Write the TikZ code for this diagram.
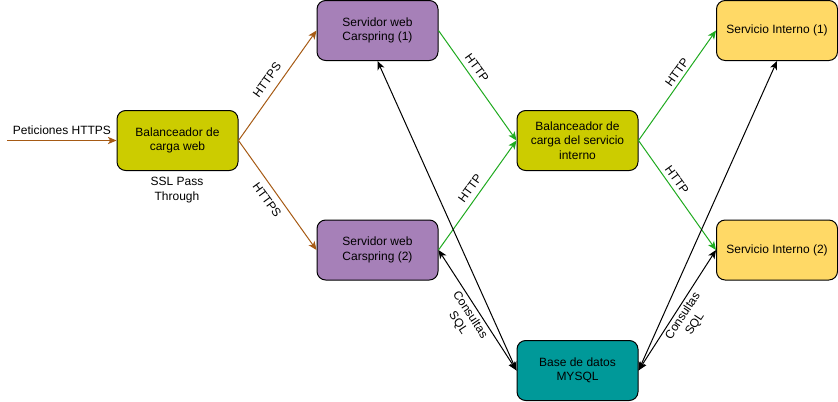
\documentclass[tikz,border=0pt]{standalone}
\usepackage{fontspec}
\setmainfont{Liberation Sans}
\usetikzlibrary{arrows.meta}
\definecolor{cpurple}{HTML}{A680B8}
\definecolor{colive}{HTML}{CCCC00}
\definecolor{cteal}{HTML}{009999}
\definecolor{cyellow}{HTML}{FFD966}
\definecolor{cbrown}{HTML}{A65A14}
\definecolor{cgreen}{HTML}{1FAA1F}
\tikzset{
  box/.style={draw=black, line width=0.75pt, rounded corners=6.5pt, minimum width=90.75pt, minimum height=45pt, inner sep=0pt, align=center, font=\fontsize{9}{10.75}\selectfont},
  lbl/.style={inner sep=0pt, align=center, font=\fontsize{9}{10.75}\selectfont},
  tip/.style={-{Stealth[length=6.5pt,width=5.5pt,inset=1.8pt]}},
  bitip/.style={{Stealth[length=6.5pt,width=5.5pt,inset=1.8pt]}-{Stealth[length=6.5pt,width=5.5pt,inset=1.8pt]}},
  brownedge/.style={tip, draw=cbrown, line width=0.75pt, color=cbrown},
  greenedge/.style={tip, draw=cgreen, line width=0.75pt, color=cgreen},
  blackedge/.style={bitip, draw=black, line width=0.75pt},
}
\begin{document}
\begin{tikzpicture}[x=0.75pt,y=-0.75pt]
\useasboundingbox (0,0) rectangle (838,401);
% nodes
\node[box, fill=colive] (lbw) at (177.5,140.5) {Balanceador de\\carga web};
\node[box, fill=cpurple] (s1) at (377.5,30.5) {Servidor web\\Carspring (1)};
\node[box, fill=cpurple] (s2) at (377.5,250) {Servidor web\\Carspring (2)};
\node[box, fill=colive] (lbs) at (577.5,140.5) {Balanceador de\\carga del servicio\\interno};
\node[box, fill=cteal] (db) at (577.5,370.5) {Base de datos\\MYSQL};
\node[box, fill=cyellow] (si1) at (777,30.5) {Servicio Interno (1)};
\node[box, fill=cyellow] (si2) at (777,250) {Servicio Interno (2)};
\coordinate (pin) at (7,140.5);
% connectors
\draw[brownedge] (pin) -- (lbw.west);
\draw[brownedge] (lbw.east) -- (s1.west);
\draw[brownedge] (lbw.east) -- (s2.west);
\draw[greenedge] (s1.east) -- (lbs.west);
\draw[greenedge] (s2.east) -- (lbs.west);
\draw[greenedge] (lbs.east) -- (si1.west);
\draw[greenedge] (lbs.east) -- (si2.west);
\draw[blackedge] (s1.south) -- (db.west);
\draw[blackedge] (s2.east) -- (db.west);
\draw[blackedge] (si1.south) -- (db.east);
\draw[blackedge] (si2.west) -- (db.east);
% labels
\node[lbl] (tpet) at (62,130.5) {Peticiones HTTPS};
\node[lbl] (tssl) at (177,190) {SSL Pass\\Through};
\node[lbl, rotate=54] (l1) at (267,80) {HTTPS};
\node[lbl, rotate=-54] (l2) at (267,200) {HTTPS};
\node[lbl, rotate=-54] (l3) at (477,68) {HTTP};
\node[lbl, rotate=54] (l4) at (470,188) {HTTP};
\node[lbl, rotate=54] (l5) at (677,72) {HTTP};
\node[lbl, rotate=-54] (l6) at (677,180) {HTTP};
\node[lbl, rotate=-56.6] (l7) at (464,319) {Consultas\\SQL};
\node[lbl, rotate=56.6] (l8) at (689,320) {Consultas\\SQL};
\end{tikzpicture}
\end{document}
